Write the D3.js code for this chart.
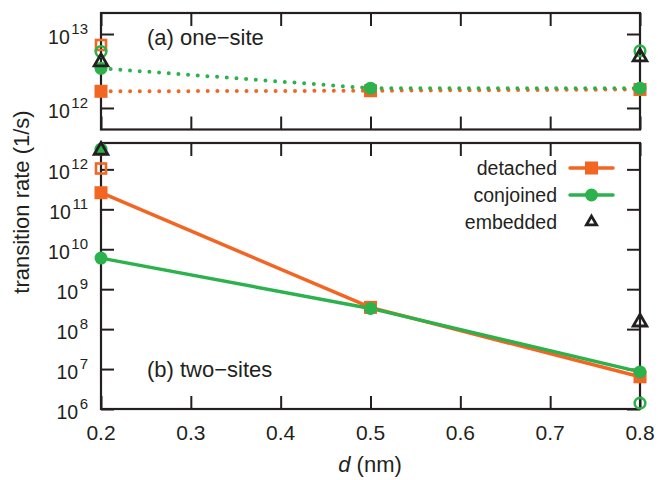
<!DOCTYPE html>
<html><head><meta charset="utf-8">
<script src="https://cdn.jsdelivr.net/npm/d3@7"></script>
<style>body{margin:0;background:#fff}svg{display:block}text{font-family:"Liberation Sans",Arial,Helvetica,sans-serif;fill:#231f20}</style>
</head><body>
<svg id="c" width="658" height="480"></svg>
<script>
// ---- data ----
const dValues = [0.2, 0.5, 0.8];
const xTickValues = [0.2, 0.3, 0.4, 0.5, 0.6, 0.7, 0.8];
const xTickLabels = ["0.2", "0.3", "0.4", "0.5", "0.6", "0.7", "0.8"];
const topYTicks = [1e12, 1e13];
const topYTickExp = ["12", "13"];
const botYTicks = [1e6, 1e7, 1e8, 1e9, 1e10, 1e11, 1e12];
const botYTickExp = ["6", "7", "8", "9", "10", "11", "12"];
const seriesNames = ["detached", "conjoined", "embedded"];
// (a) one-site
const oneDetached = [1.68e12, 1.71e12, 1.78e12];
const oneConjoined = [3.44e12, 1.85e12, 1.85e12];
const oneDetachedOpen = [7.1e12, null, null];
const oneConjoinedOpen = [5.8e12, null, 5.9e12];
const oneEmbedded = [4.2e12, null, 4.9e12];
// (b) two-sites
const twoDetached = [2.6e11, 3.5e8, 6.4e6];
const twoConjoined = [6.0e9, 3.3e8, 8.5e6];
const twoDetachedOpen = [1.05e12, null, null];
const twoConjoinedExtra = [3.2e12, null, null];
const twoConjoinedOpen = [null, null, 1.4e6];
const twoEmbedded = [3.0e12, null, 1.5e8];

// ---- style ----
const ORANGE = "#f26522", GREEN = "#2bb24c", INK = "#231f20";
const svg = d3.select("#c");
const x = d3.scaleLinear().domain([0.2, 0.8]).range([101, 640]);
const yTop = d3.scaleLog().domain([Math.pow(10, 11.709), Math.pow(10, 13.284)]).range([129.5, 13]);
const yBot = d3.scaleLog().domain([1e6, Math.pow(10, 12.66)]).range([409, 143]);

function frame(y, yTicks, yExp, showX) {
  const [y0, y1] = y.range();
  const g = svg.append("g");
  const tl = 13;
  const axL = g.append("g").attr("transform", `translate(${x(0.2)},0)`).call(d3.axisLeft(y).tickValues(yTicks).tickSize(-tl).tickFormat(""));
  const axR = g.append("g").attr("transform", `translate(${x(0.8)},0)`).call(d3.axisRight(y).tickValues(yTicks).tickSize(-tl).tickFormat(""));
  const axB = g.append("g").attr("transform", `translate(0,${y0})`).call(d3.axisBottom(x).tickValues(xTickValues).tickSize(-tl).tickFormat(""));
  const axT = g.append("g").attr("transform", `translate(0,${y1})`).call(d3.axisTop(x).tickValues(xTickValues).tickSize(-tl).tickFormat(""));
  [axL, axR, axB, axT].forEach(a => {
    a.select(".domain").remove();
    a.selectAll(".tick line").attr("stroke", INK).attr("stroke-width", 2);
  });
  g.append("rect").attr("x", x(0.2)).attr("y", y1).attr("width", x(0.8) - x(0.2)).attr("height", y0 - y1)
    .attr("fill", "none").attr("stroke", INK).attr("stroke-width", 2.2);
  yTicks.forEach((v, i) => {
    const t = g.append("text").attr("x", 88).attr("y", y(v) + 10).attr("text-anchor", "end");
    t.append("tspan").attr("font-size", 19.5).text("10");
    t.append("tspan").attr("font-size", 15).attr("dx", 1.5).attr("dy", -10).text(yExp[i]);
  });
  if (showX) {
    xTickValues.forEach((v, i) => {
      g.append("text").attr("x", x(v)).attr("y", y0 + 31).attr("text-anchor", "middle").attr("font-size", 21).text(xTickLabels[i]);
    });
  }
}

frame(yTop, topYTicks, topYTickExp, false);
frame(yBot, botYTicks, botYTickExp, true);

function pts(arr) { return dValues.map((d, i) => [d, arr[i]]).filter(p => p[1] != null); }
function line(y, arr, color, dotted) {
  const gen = d3.line().x(p => x(p[0])).y(p => y(p[1]));
  const p = svg.append("path").attr("d", gen(pts(arr))).attr("fill", "none").attr("stroke", color);
  if (dotted) p.attr("stroke-width", 4).attr("stroke-linecap", "round").attr("stroke-dasharray", "0,9.7");
  else p.attr("stroke-width", 3.5).attr("stroke-linejoin", "round");
}
function markers(y, arr, kind, color) {
  pts(arr).forEach(p => {
    const cx = x(p[0]), cy = y(p[1]);
    if (kind === "sq") svg.append("rect").attr("x", cx - 6.5).attr("y", cy - 6.5).attr("width", 13).attr("height", 13).attr("fill", color);
    if (kind === "osq") svg.append("rect").attr("x", cx - 5).attr("y", cy - 5).attr("width", 10).attr("height", 10).attr("fill", "none").attr("stroke", color).attr("stroke-width", 2.6);
    if (kind === "ci") svg.append("circle").attr("cx", cx).attr("cy", cy).attr("r", 6.5).attr("fill", color);
    if (kind === "oci") svg.append("circle").attr("cx", cx).attr("cy", cy).attr("r", 5.3).attr("fill", "none").attr("stroke", color).attr("stroke-width", 2.6);
    if (kind === "tri") svg.append("path").attr("d", d3.symbol(d3.symbolTriangle, 80)()).attr("transform", `translate(${cx},${cy})`)
      .attr("fill", "none").attr("stroke", INK).attr("stroke-width", 2.8).attr("stroke-linejoin", "miter");
  });
}

// (a)
line(yTop, oneDetached, ORANGE, true);
line(yTop, oneConjoined, GREEN, true);
markers(yTop, oneDetached, "sq", ORANGE);
markers(yTop, oneConjoined, "ci", GREEN);
markers(yTop, oneDetachedOpen, "osq", ORANGE);
markers(yTop, oneConjoinedOpen, "oci", GREEN);
markers(yTop, oneEmbedded, "tri");
// (b)
line(yBot, twoDetached, ORANGE, false);
line(yBot, twoConjoined, GREEN, false);
markers(yBot, twoDetached, "sq", ORANGE);
markers(yBot, twoConjoined, "ci", GREEN);
markers(yBot, twoDetachedOpen, "osq", ORANGE);
markers(yBot, twoConjoinedExtra, "ci", GREEN);
markers(yBot, twoConjoinedOpen, "oci", GREEN);
markers(yBot, twoEmbedded, "tri");

// panel labels
svg.append("text").attr("x", 147).attr("y", 45).attr("font-size", 22).text("(a) one\u2212site");
svg.append("text").attr("x", 147).attr("y", 377).attr("font-size", 22).text("(b) two\u2212sites");

// legend
const legY = [168, 195, 222];
const legColors = [ORANGE, GREEN, null];
seriesNames.forEach((name, i) => {
  svg.append("text").attr("x", 557).attr("y", legY[i] + 7).attr("text-anchor", "end").attr("font-size", 19.5).text(name);
  if (legColors[i]) {
    svg.append("line").attr("x1", 570).attr("x2", 613).attr("y1", legY[i]).attr("y2", legY[i]).attr("stroke", legColors[i]).attr("stroke-width", 3.5).attr("stroke-linecap", "round");
    if (i === 0) svg.append("rect").attr("x", 585).attr("y", legY[i] - 6.5).attr("width", 13).attr("height", 13).attr("fill", ORANGE);
    else svg.append("circle").attr("cx", 591.5).attr("cy", legY[i]).attr("r", 6.5).attr("fill", GREEN);
  } else {
    svg.append("path").attr("d", d3.symbol(d3.symbolTriangle, 45)()).attr("transform", `translate(591.5,${legY[i]})`)
      .attr("fill", "none").attr("stroke", INK).attr("stroke-width", 2.8);
  }
});

// axis titles
svg.append("text").attr("transform", "translate(29,202) rotate(-90)").attr("text-anchor", "middle").attr("font-size", 22).text("transition rate (1/s)");
const xl = svg.append("text").attr("x", 370).attr("y", 472).attr("text-anchor", "middle").attr("font-size", 22);
xl.append("tspan").attr("font-style", "italic").text("d");
xl.append("tspan").text(" (nm)");
</script>
</body></html>
